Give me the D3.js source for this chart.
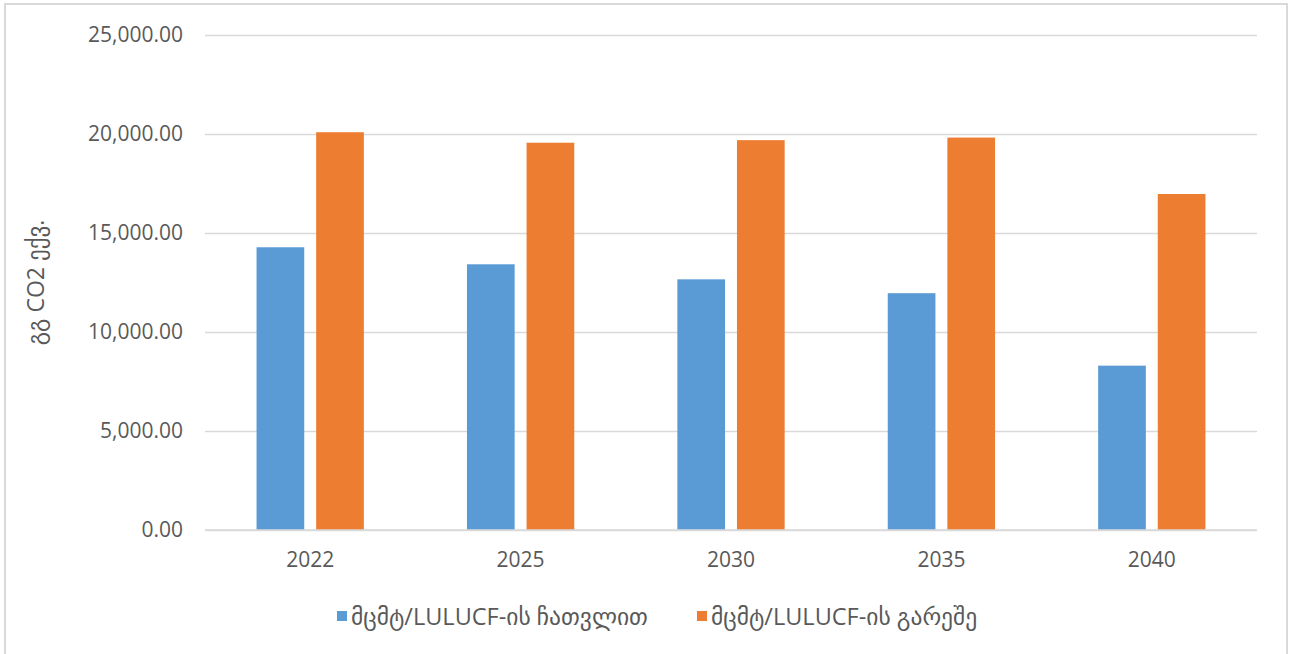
<!DOCTYPE html>
<html>
<head>
<meta charset="utf-8">
<script src="https://cdn.jsdelivr.net/npm/d3@7"></script>
<style>
  html, body { margin: 0; padding: 0; background: #fff; }
  svg { display: block; }
  text { font-family: "Open Sans", "DejaVu Sans", sans-serif; fill: #595959; }
</style>
</head>
<body>
<svg id="chart" width="1290" height="654"></svg>
<script>
// Emission projections, Gg CO2 eq.
const years = ["2022", "2025", "2030", "2035", "2040"];
const seriesNames = ["მცმტ/LULUCF-ის ჩათვლით", "მცმტ/LULUCF-ის გარეშე"];
const withLulucf = [14280, 13420, 12660, 11960, 8300];
const withoutLulucf = [20090, 19560, 19690, 19820, 16970];
const yTicks = [0, 5000, 10000, 15000, 20000, 25000];
const yTitle = "გგ CO2 ექვ.";
const colors = ["#5B9BD5", "#ED7D31"];

const svg = d3.select("#chart");
const W = 1290, H = 654;
const margin = { left: 205, right: 33, top: 35, bottom: 124 };

// outer frame
svg.append("rect")
  .attr("x", 5).attr("y", 4).attr("width", W - 8).attr("height", H + 10)
  .attr("fill", "#fff").attr("stroke", "#d9d9d9").attr("stroke-width", 2);

const x0 = d3.scaleBand()
  .domain(years)
  .range([margin.left, W - margin.right])
  .paddingInner(0.49).paddingOuter(0.245);

const x1 = d3.scaleBand()
  .domain([0, 1])
  .range([0, x0.bandwidth()])
  .paddingInner(0.2);

const y = d3.scaleLinear()
  .domain([0, 25000])
  .range([H - margin.bottom, margin.top]);

// gridlines and tick labels
const yAxis = d3.axisLeft(y)
  .tickValues(yTicks)
  .tickSize(-(W - margin.left - margin.right))
  .tickPadding(22)
  .tickFormat(d3.format(",.2f"));

const gy = svg.append("g")
  .attr("transform", `translate(${margin.left},0)`)
  .call(yAxis);
gy.select(".domain").remove();
gy.selectAll(".tick line").attr("stroke", "#d9d9d9").attr("stroke-width", 1.5);
gy.selectAll(".tick text")
  .attr("font-size", 21)
  .attr("fill", "#595959")
  .attr("font-family", "'Open Sans', sans-serif");

// bars
const rows = years.map((yr, i) => ({ year: yr, values: [withLulucf[i], withoutLulucf[i]] }));
const groups = svg.append("g").selectAll("g")
  .data(rows).join("g")
  .attr("transform", d => `translate(${x0(d.year)},0)`);

groups.selectAll("rect")
  .data(d => d.values.map((v, k) => ({ k, v })))
  .join("rect")
  .attr("x", d => x1(d.k))
  .attr("width", x1.bandwidth())
  .attr("y", d => y(d.v))
  .attr("height", d => y(0) - y(d.v))
  .attr("fill", d => colors[d.k]);

// category axis
const xAxis = d3.axisBottom(x0).tickSize(0).tickPadding(22);
const gx = svg.append("g")
  .attr("transform", `translate(0,${y(0)})`)
  .call(xAxis);
gx.select(".domain").attr("stroke", "#d9d9d9").attr("stroke-width", 1.5)
  .attr("d", `M${margin.left},0H${W - margin.right}`);
gx.selectAll(".tick text")
  .attr("font-size", 21)
  .attr("fill", "#595959")
  .attr("font-family", "'Open Sans', sans-serif");

// y-axis title
svg.append("text")
  .attr("transform", `translate(44,${(y(0) + y(25000)) / 2}) rotate(-90)`)
  .attr("text-anchor", "middle")
  .attr("font-size", 23)
  .text(yTitle);

// legend
const legendX = [337, 697];
const legend = svg.append("g").selectAll("g")
  .data(seriesNames).join("g")
  .attr("transform", (d, i) => `translate(${legendX[i]},611)`);
legend.append("rect")
  .attr("width", 10).attr("height", 10)
  .attr("fill", (d, i) => colors[i]);
legend.append("text")
  .attr("x", 14).attr("y", 14)
  .attr("font-size", 23.5)
  .text(d => d);
</script>
</body>
</html>
